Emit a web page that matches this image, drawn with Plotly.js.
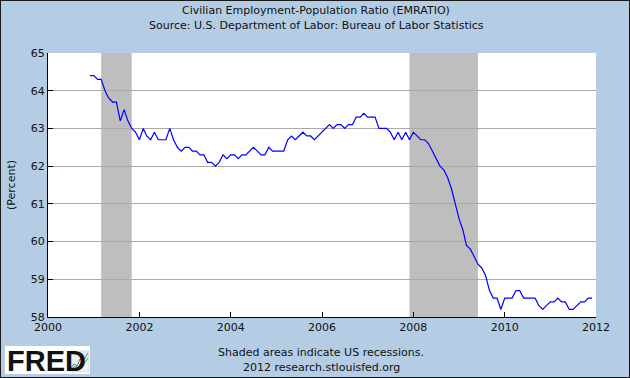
<!DOCTYPE html>
<html>
<head>
<meta charset="utf-8">
<script src="https://cdn.plot.ly/plotly-3.0.1.min.js"></script>
<style>
  html, body { margin: 0; padding: 0; background: #B4CDE4; }
  #wrap { position: relative; width: 630px; height: 378px; }
  #plot { position: absolute; left: 0; top: 0; width: 630px; height: 378px; }
  #frame { position: absolute; left: 0; top: 0; width: 630px; height: 378px; box-sizing: border-box; border: 1px solid #1a1a1a; pointer-events: none; }
</style>
</head>
<body>
<div id="wrap"><div id="plot"></div><div id="frame"></div></div>
<script>
// ---- Data ----
const startMonth = '2000-12';   // first monthly observation
const emratio = [
  64.4,
  64.4, 64.3, 64.3, 64.0, 63.8, 63.7, 63.7, 63.2, 63.5, 63.2, 63.0, 62.9,
  62.7, 63.0, 62.8, 62.7, 62.9, 62.7, 62.7, 62.7, 63.0, 62.7, 62.5, 62.4,
  62.5, 62.5, 62.4, 62.4, 62.3, 62.3, 62.1, 62.1, 62.0, 62.1, 62.3, 62.2,
  62.3, 62.3, 62.2, 62.3, 62.3, 62.4, 62.5, 62.4, 62.3, 62.3, 62.5, 62.4,
  62.4, 62.4, 62.4, 62.7, 62.8, 62.7, 62.8, 62.9, 62.8, 62.8, 62.7, 62.8,
  62.9, 63.0, 63.1, 63.0, 63.1, 63.1, 63.0, 63.1, 63.1, 63.3, 63.3, 63.4,
  63.3, 63.3, 63.3, 63.0, 63.0, 63.0, 62.9, 62.7, 62.9, 62.7, 62.9, 62.7,
  62.9, 62.8, 62.7, 62.7, 62.6, 62.4, 62.2, 62.0, 61.9, 61.7, 61.4, 61.0,
  60.6, 60.3, 59.9, 59.8, 59.6, 59.4, 59.3, 59.1, 58.7, 58.5, 58.5, 58.2,
  58.5, 58.5, 58.5, 58.7, 58.7, 58.5, 58.5, 58.5, 58.5, 58.3, 58.2, 58.3,
  58.4, 58.4, 58.5, 58.4, 58.4, 58.2, 58.2, 58.3, 58.4, 58.4, 58.5, 58.5
];
const recessionStarts = ['2001-03-01', '2007-12-01'];
const recessionEnds   = ['2001-11-01', '2009-06-01'];
const xRange = ['2000-01-01', '2012-01-01'];
const yRange = [58, 65];
const titleLines = ['Civilian Employment-Population Ratio (EMRATIO)', 'Source: U.S. Department of Labor: Bureau of Labor Statistics'];
const yTitle = '(Percent)';
const footLines = ['Shaded areas indicate US recessions.', '2012 research.stlouisfed.org'];

// ---- Build monthly dates ----
const [sy, sm] = startMonth.split('-').map(Number);
const dates = emratio.map((_, i) => {
  const t = (sy * 12 + (sm - 1)) + i;
  const y = Math.floor(t / 12), m = t % 12 + 1;
  return y + '-' + String(m).padStart(2, '0') + '-01';
});

// ---- Geometry helpers (figure pixels -> paper coords) ----
const W = 630, H = 378, M = {l: 48, r: 34, t: 53, b: 61};
const PW = W - M.l - M.r, PH = H - M.t - M.b;
const px = x => (x - M.l) / PW;
const py = y => (H - M.b - y) / PH;

const font = 'DejaVu Sans, Verdana, sans-serif';
const txt = {family: font, size: 11, color: '#111'};

const shapes = recessionStarts.map((s, i) => ({
  type: 'rect', xref: 'x', yref: 'paper', x0: s, x1: recessionEnds[i], y0: 0, y1: 1,
  fillcolor: '#BEBEBE', line: {width: 0}, layer: 'between'
}));

// FRED logo box and icon
shapes.push({type: 'rect', xref: 'paper', yref: 'paper', x0: px(5), x1: px(90), y0: py(374), y1: py(346),
  fillcolor: '#FFFFFF', line: {width: 0}, layer: 'above'});
shapes.push({type: 'rect', xref: 'paper', yref: 'paper', x0: px(70), x1: px(89), y0: py(372), y1: py(351),
  fillcolor: '#EFEFEF', line: {width: 0.5, color: '#C8C8C8'}, layer: 'above'});
function iconPath(pts) {
  return pts.map((p, i) => (i ? 'L' : 'M') + px(p[0]) + ',' + py(p[1])).join(' ');
}
shapes.push({type: 'path', xref: 'paper', yref: 'paper', layer: 'above',
  path: iconPath([[71, 368], [74, 364], [77, 366], [80, 359], [83, 361], [88, 353]]),
  line: {color: '#3D7FC4', width: 1}});
shapes.push({type: 'path', xref: 'paper', yref: 'paper', layer: 'above',
  path: iconPath([[71, 370], [75, 366], [78, 368], [81, 363], [84, 364], [88, 358]]),
  line: {color: '#6BB04A', width: 1}});

const annotations = [
  {text: titleLines[0], xref: 'paper', yref: 'paper', x: px(316), y: py(11),
   xanchor: 'center', yanchor: 'middle', showarrow: false, font: txt},
  {text: titleLines[1], xref: 'paper', yref: 'paper', x: px(316), y: py(25),
   xanchor: 'center', yanchor: 'middle', showarrow: false, font: txt},
  {text: footLines[0], xref: 'paper', yref: 'paper', x: px(321), y: py(352),
   xanchor: 'center', yanchor: 'middle', showarrow: false, font: txt},
  {text: footLines[1], xref: 'paper', yref: 'paper', x: px(321), y: py(367),
   xanchor: 'center', yanchor: 'middle', showarrow: false, font: txt},
  {text: '<b>FRED</b>', xref: 'paper', yref: 'paper', x: px(5), y: py(361),
   xanchor: 'left', yanchor: 'middle', showarrow: false,
   font: {family: 'Liberation Sans Narrow, Liberation Sans, Arial, sans-serif', size: 29, color: '#111'}}
];

const trace = {
  x: dates, y: emratio, type: 'scatter', mode: 'lines',
  line: {color: '#0000FF', width: 1.2, shape: 'linear'},
  hoverinfo: 'x+y'
};

const layout = {
  width: W, height: H,
  margin: M,
  paper_bgcolor: '#B4CDE4',
  plot_bgcolor: '#FFFFFF',
  showlegend: false,
  xaxis: {
    type: 'date', range: xRange, dtick: 'M24', tick0: '2000-01-01', tickformat: '%Y',
    showgrid: false, zeroline: false,
    showline: true, linecolor: '#000', linewidth: 1,
    ticks: 'inside', ticklen: 5, tickcolor: '#000',
    tickfont: txt
  },
  yaxis: {
    range: yRange, dtick: 1, tick0: 58,
    showgrid: true, gridcolor: '#AAAAAA', gridwidth: 1,
    zeroline: false, showline: true, linecolor: '#000', linewidth: 1,
    ticks: 'inside', ticklen: 5, tickcolor: '#000',
    tickfont: txt,
    title: {text: yTitle, font: txt, standoff: 12}
  },
  shapes: shapes,
  annotations: annotations
};

Plotly.newPlot('plot', [trace], layout, {displayModeBar: false, staticPlot: true});
</script>
</body>
</html>
